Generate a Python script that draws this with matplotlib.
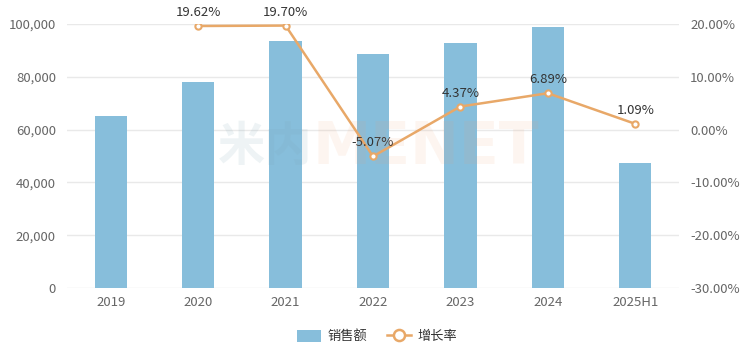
import matplotlib
matplotlib.use('Agg')
import matplotlib.pyplot as plt
from matplotlib.ticker import FuncFormatter
from matplotlib.lines import Line2D
from matplotlib.patches import Patch

plt.rcParams['font.family'] = ['Noto Sans CJK SC', 'DejaVu Sans']

years = ['2019', '2020', '2021', '2022', '2023', '2024', '2025H1']
sales = [65300, 78100, 93400, 88800, 92700, 99000, 47500]
growth_years = ['2020', '2021', '2022', '2023', '2024', '2025H1']
growth = [19.62, 19.70, -5.07, 4.37, 6.89, 1.09]

bar_color = '#87BEDB'
line_color = '#E8A868'
tick_color = '#666666'

fig = plt.figure(figsize=(7.54, 3.56), dpi=100)
ax = fig.add_axes([0.0889, 0.191, 0.8116, 0.7416])
x = list(range(len(years)))
ax.bar(x, sales, width=0.37, color=bar_color, zorder=2)
ax.set_xlim(-0.5, len(years) - 0.5)
ax.set_ylim(0, 100000)
ax.set_yticks(range(0, 100001, 20000))
ax.yaxis.set_major_formatter(FuncFormatter(lambda v, p: f'{int(v):,}'))
ax.set_xticks(x)
ax.set_xticklabels(years)
ax.grid(axis='y', color='#E9E9E9', linewidth=1, zorder=0)
for s in ax.spines.values():
    s.set_visible(False)
ax.tick_params(length=0, colors=tick_color, labelsize=9.5)
ax.tick_params(axis='x', pad=6)
ax.tick_params(axis='y', pad=8)

ax2 = ax.twinx()
ax2.set_ylim(-30, 20)
ax2.set_yticks(range(-30, 21, 10))
ax2.yaxis.set_major_formatter(FuncFormatter(lambda v, p: f'{v:.2f}%'))
for s in ax2.spines.values():
    s.set_visible(False)
ax2.tick_params(length=0, colors=tick_color, labelsize=9.5, pad=8)
gx = [years.index(g) for g in growth_years]
ax2.plot(gx, growth, color=line_color, linewidth=1.8, marker='o', markersize=4.5,
         markerfacecolor='white', markeredgecolor=line_color, markeredgewidth=1.5, zorder=3)
for xi, g in zip(gx, growth):
    ax2.annotate(f'{g:.2f}%', (xi, g), xytext=(0, 5), textcoords='offset points',
                 ha='center', va='bottom', fontsize=9.5, color='#333333')

# watermark (faint)
fig.text(0.414, 0.586, '米内', fontsize=34, fontweight='bold', color='#7FA5B5', alpha=0.13,
         ha='right', va='center', zorder=10)
fig.text(0.414, 0.586, 'MENET', fontsize=42, fontweight='bold', color='#F0A070', alpha=0.1,
         ha='left', va='center', family='DejaVu Sans', zorder=10)

handles = [Patch(facecolor=bar_color, edgecolor='none'),
           Line2D([0], [0], color=line_color, linewidth=1.8, marker='o', markersize=8,
                  markerfacecolor='white', markeredgecolor=line_color, markeredgewidth=1.8)]
fig.legend(handles, ['销售额', '增长率'], loc='center', bbox_to_anchor=(0.5, 0.055), ncol=2,
           frameon=False, fontsize=9.5, handlelength=1.8, handleheight=1.0,
           columnspacing=1.5, handletextpad=0.5, labelcolor='#333333')

fig.savefig('out.png', dpi=100)
